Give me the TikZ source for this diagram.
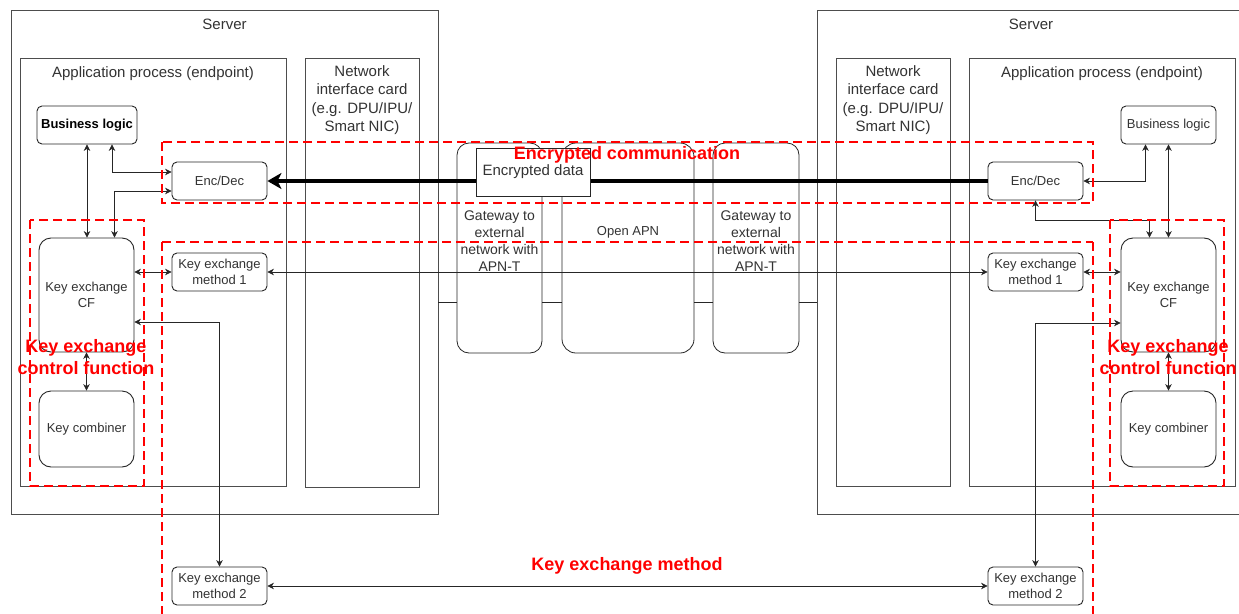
\documentclass[tikz,border=0pt]{standalone}
\usepackage{fontspec}
\setmainfont{Liberation Sans}
\usetikzlibrary{arrows.meta,calc}
\definecolor{txt}{HTML}{333333}
\definecolor{frame}{HTML}{4D4D4D}
\definecolor{redline}{HTML}{FF0000}
\newcommand{\fs}[2]{\fontsize{#1}{#2}\selectfont}
\begin{document}
\begin{tikzpicture}[x=1pt,y=-1pt,
  container/.style={draw=frame, line width=0.9pt, minimum width=#1, inner sep=0pt},
  box/.style={draw=black!85, line width=0.9pt, rounded corners=5pt, minimum width=95pt, minimum height=38pt, inner sep=0pt, align=center, text=txt, font=\fs{13}{16}},
  bigbox/.style={box, rounded corners=12pt},
  lbl/.style={text=txt, align=center, inner sep=0pt},
  conn/.style={draw=black!85, line width=0.7pt},
  dbl/.style={conn, {Stealth[length=6.5pt,width=6.5pt]}-{Stealth[length=6.5pt,width=6.5pt]}},
  redbox/.style={draw=redline, line width=2.5pt, dash pattern=on 9pt off 5pt},
  redlbl/.style={text=redline, font=\fs{18}{22}\bfseries, align=center, inner sep=0pt}
]
\useasboundingbox (0,0) rectangle (1239,613);
\fill[white] (0,0) rectangle (1239,613);

% ---------- containers ----------
\node[container=427pt, minimum height=504pt] (srvL) at (224.5,262) {};
\node[lbl, font=\fs{15}{18}] (srvLt) at (224.5,24) {Server};
\node[container=266pt, minimum height=428pt] (appL) at (153,272) {};
\node[lbl, font=\fs{15}{18}] (appLt) at (153,74) {Application process (endpoint)};
\node[container=114pt, minimum height=429pt] (nicL) at (362,272.5) {};
\node[lbl, font=\fs{15}{18.3}] (nicLt) at (362,100) {Network\\interface card\\(e.g. DPU/IPU/\\Smart NIC)};

\node[container=428pt, minimum height=504pt] (srvR) at (1031,262) {};
\node[lbl, font=\fs{15}{18}] (srvRt) at (1031,24) {Server};
\node[container=114pt, minimum height=428pt] (nicR) at (893,272) {};
\node[lbl, font=\fs{15}{18.3}] (nicRt) at (893,100) {Network\\interface card\\(e.g. DPU/IPU/\\Smart NIC)};
\node[container=266pt, minimum height=428pt] (appR) at (1102,272) {};
\node[lbl, font=\fs{15}{18}] (appRt) at (1102,74) {Application process (endpoint)};

% ---------- gateways ----------
\node[draw=black!85, line width=0.8pt, rounded corners=12pt, minimum width=85pt, minimum height=210pt, inner sep=0pt] (gw1) at (499.5,248) {};
\node[lbl, font=\fs{14}{17}] (gw1t) at (499.5,241) {Gateway to\\external\\network with\\APN-T};
\node[draw=black!85, line width=0.8pt, rounded corners=14pt, minimum width=132pt, minimum height=210pt, inner sep=0pt] (apn) at (628,248) {};
\node[lbl, font=\fs{13}{16}] (apnt) at (628,232) {Open APN};
\node[draw=black!85, line width=0.8pt, rounded corners=12pt, minimum width=86pt, minimum height=210pt, inner sep=0pt] (gw2) at (756,248) {};
\node[lbl, font=\fs{14}{17}] (gw2t) at (756,241) {Gateway to\\external\\network with\\APN-T};

\draw[conn] (srvL.east |- 0,302) -- (gw1.west |- 0,302);
\draw[conn] (gw1.east |- 0,302) -- (apn.west |- 0,302);
\draw[conn] (apn.east |- 0,302) -- (gw2.west |- 0,302);
\draw[conn] (gw2.east |- 0,302) -- (srvR.west |- 0,302);

% ---------- left boxes ----------
\node[box, minimum width=100pt, font=\fs{13}{16}\bfseries, text=black] (blL) at (87,125) {Business logic};
\node[box] (edL) at (219.5,181) {Enc/Dec};
\node[bigbox, minimum height=114pt] (kcfL) at (86.5,295) {Key exchange\\CF};
\node[bigbox, minimum height=76pt] (kcL) at (86.5,429) {Key combiner};
\node[box] (kem1L) at (219.5,272) {Key exchange\\method 1};
\node[box] (kem2L) at (219.5,586) {Key exchange\\method 2};

% ---------- right boxes ----------
\node[box] (blR) at (1168.5,125) {Business logic};
\node[box] (edR) at (1035.5,181) {Enc/Dec};
\node[bigbox, minimum height=114pt] (kcfR) at (1168.5,295) {Key exchange\\CF};
\node[bigbox, minimum height=76pt] (kcR) at (1168.5,429) {Key combiner};
\node[box] (kem1R) at (1035.5,272) {Key exchange\\method 1};
\node[box] (kem2R) at (1035.5,586) {Key exchange\\method 2};

% ---------- thick encrypted link ----------
\draw[line width=3.5pt, -{Stealth[length=14pt,width=16pt,inset=4pt]}] (edR.west) -- (edL.east);
\node[draw=black!85, fill=white, line width=0.9pt, minimum width=114pt, minimum height=48pt, inner sep=0pt, text=txt, font=\fs{15}{18}] (encd) at (533,172) {Encrypted data};

% ---------- left connectors ----------
\draw[dbl] (blL.south) -- (blL.south |- kcfL.north);
\draw[dbl] ([xshift=25pt]blL.south) |- ([yshift=9pt]edL.west);
\draw[dbl] ([yshift=-10pt]edL.west) -| ([xshift=28pt]kcfL.north);
\draw[dbl] (kcfL.east |- kem1L.west) -- (kem1L.west);
\draw[dbl] (kem1L.east) -- (kem1R.west);
\draw[dbl] ([yshift=-27pt]kcfL.east) -| (kem2L.north);
\draw[dbl] (kem2L.east) -- (kem2R.west);
\draw[dbl] (kcfL.south) -- (kcL.north);

% ---------- right connectors ----------
\draw[dbl] (edR.east) -| ([xshift=-23pt]blR.south);
\draw[dbl] (edR.south) -- ++(0,20) -| ([xshift=-19pt]kcfR.north);
\draw[dbl] (blR.south) -- (kcfR.north);
\draw[dbl] (kem1R.east) -- (kem1R.east -| kcfR.west);
\draw[dbl] ([yshift=-28pt]kcfR.west) -| (kem2R.north);
\draw[dbl] (kcfR.south) -- (kcR.north);

% ---------- red dashed areas ----------
\draw[redbox] (162,142) rectangle (1093,203);
\draw[redbox] (162,242) -- (1093,242) (162,242) -- (162,625) (1093,242) -- (1093,625);
\draw[redbox] (30,220) rectangle (144,486);
\draw[redbox] (1110,220) rectangle (1224,486);

\node[redlbl] (encl) at (627,155) {Encrypted communication};
\node[redlbl] (keml) at (627,566) {Key exchange method};
\node[redlbl] (kcflL) at (86,357) {Key exchange\\control function};
\node[redlbl] (kcflR) at (1168,357) {Key exchange\\control function};
\end{tikzpicture}
\end{document}
